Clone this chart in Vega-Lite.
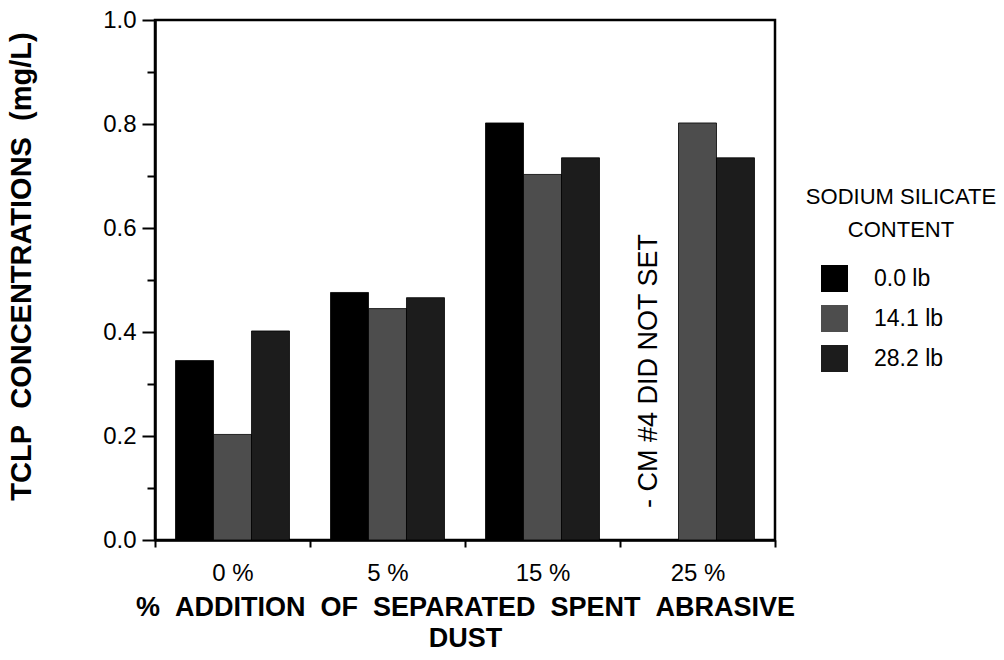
{
  "$schema": "https://vega.github.io/schema/vega-lite/v6.json",
  "autosize": {"type": "none"},
  "width": 620,
  "height": 520,
  "padding": {"left": 155, "top": 20, "right": 229, "bottom": 120},
  "background": "white",
  "config": {
    "font": "Liberation Sans",
    "view": {"stroke": "black", "strokeWidth": 2.5},
    "axis": {
      "domainColor": "black",
      "domainWidth": 2.5,
      "tickColor": "black",
      "tickWidth": 2,
      "labelColor": "black",
      "titleColor": "black",
      "labelFont": "Liberation Sans",
      "titleFont": "Liberation Sans",
      "grid": false
    },
    "legend": {"labelColor": "black", "titleColor": "black"}
  },
  "layer": [
    {
      "data": {
        "values": [
          {"dust": "0 %", "sil": "0.0 lb", "tclp": 0.345},
          {"dust": "0 %", "sil": "14.1 lb", "tclp": 0.203},
          {"dust": "0 %", "sil": "28.2 lb", "tclp": 0.402},
          {"dust": "5 %", "sil": "0.0 lb", "tclp": 0.476},
          {"dust": "5 %", "sil": "14.1 lb", "tclp": 0.445},
          {"dust": "5 %", "sil": "28.2 lb", "tclp": 0.466},
          {"dust": "15 %", "sil": "0.0 lb", "tclp": 0.802},
          {"dust": "15 %", "sil": "14.1 lb", "tclp": 0.703},
          {"dust": "15 %", "sil": "28.2 lb", "tclp": 0.735},
          {"dust": "25 %", "sil": "14.1 lb", "tclp": 0.802},
          {"dust": "25 %", "sil": "28.2 lb", "tclp": 0.735}
        ]
      },
      "mark": {"type": "bar", "stroke": "black", "strokeWidth": 0.8},
      "encoding": {
        "x": {
          "field": "dust",
          "type": "nominal",
          "sort": ["0 %", "5 %", "15 %", "25 %"],
          "scale": {"paddingInner": 0, "paddingOuter": 0},
          "axis": {
            "labelAngle": 0,
            "tickBand": "extent",
            "tickSize": 7,
            "labelPadding": 14,
            "labelFontSize": 24,
            "title": ["%\u00a0\u00a0ADDITION\u00a0\u00a0OF\u00a0\u00a0SEPARATED\u00a0\u00a0SPENT\u00a0\u00a0ABRASIVE", "DUST"],
            "titleFontSize": 27,
            "titleFontWeight": "bold",
            "titleLineHeight": 31,
            "titlePadding": 9,
            "titleLimit": 800
          }
        },
        "xOffset": {
          "field": "sil",
          "type": "nominal",
          "sort": ["0.0 lb", "14.1 lb", "28.2 lb"],
          "scale": {"paddingInner": 0, "paddingOuter": 0.54}
        },
        "y": {
          "field": "tclp",
          "type": "quantitative",
          "scale": {"domain": [0, 1]},
          "axis": {
            "values": [0, 0.1, 0.2, 0.3, 0.4, 0.5, 0.6, 0.7, 0.8, 0.9, 1.0],
            "labelExpr": "round(datum.value*10) % 2 == 0 ? format(datum.value, '.1f') : ''",
            "tickSize": {"condition": {"test": "round(datum.value*10) % 2 == 0", "value": 13}, "value": 8},
            "labelPadding": 6,
            "labelFontSize": 24,
            "title": "TCLP\u00a0\u00a0CONCENTRATIONS\u00a0\u00a0(mg/L)",
            "titleFontSize": 29,
            "titleFontWeight": "bold",
            "titlePadding": 66,
            "titleY": 246,
            "titleLimit": 800
          }
        },
        "color": {
          "field": "sil",
          "type": "nominal",
          "sort": ["0.0 lb", "14.1 lb", "28.2 lb"],
          "scale": {"range": ["#000000", "#4d4d4d", "#1c1c1c"]},
          "legend": {
            "title": ["SODIUM SILICATE", "CONTENT"],
            "titleFontSize": 22,
            "titleFontWeight": "normal",
            "titleAnchor": "middle",
            "titleAlign": "center",
            "titleLineHeight": 33,
            "titlePadding": 23,
            "titleLimit": 400,
            "labelFontSize": 23,
            "labelOffset": 26,
            "symbolType": "square",
            "symbolSize": 729,
            "symbolStrokeWidth": 0,
            "symbolOffset": -37,
            "rowPadding": 13,
            "orient": "none",
            "legendX": 651,
            "legendY": 167
          }
        }
      }
    },
    {
      "data": {"values": [{"dust": "25 %", "sil": "0.0 lb", "note": "- CM #4 DID NOT SET"}]},
      "mark": {"type": "text", "angle": 270, "align": "center", "baseline": "middle", "fontSize": 27, "color": "black", "dy": -11},
      "encoding": {
        "x": {"field": "dust", "type": "nominal", "sort": ["0 %", "5 %", "15 %", "25 %"]},
        "xOffset": {"field": "sil", "type": "nominal", "sort": ["0.0 lb", "14.1 lb", "28.2 lb"]},
        "y": {"datum": 0.325},
        "text": {"field": "note"}
      }
    }
  ]
}
